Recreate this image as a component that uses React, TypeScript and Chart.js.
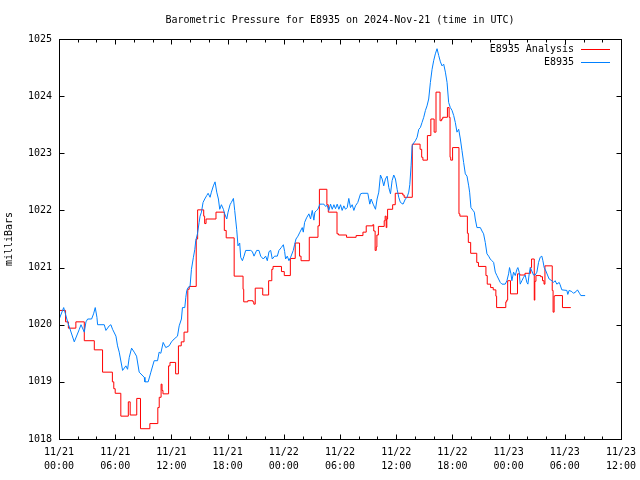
import React, { useEffect, useRef } from "react";
import { Chart, registerables } from "chart.js";

Chart.register(...registerables);

const chartTitle = "Barometric Pressure for E8935 on 2024-Nov-21 (time in UTC)";
const yAxisLabel = "milliBars";
const seriesNames = ["E8935 Analysis", "E8935"];
const seriesColors = ["#ff0000", "#0080ff"];

// hours since 2024-11-21 00:00 UTC
const xTickHours = [0, 6, 12, 18, 24, 30, 36, 42, 48, 54, 60];
const xMinorStep = 2;
const yTicks = [1018, 1019, 1020, 1021, 1022, 1023, 1024, 1025];

const analysisHours = [
  0, 0.7, 1.0, 1.8, 2.7, 3.77, 4.65, 5.7, 5.85, 6.0, 6.6, 7.4, 7.6, 8.3, 8.7, 9.7,
  10.55, 10.7, 10.9, 11.0, 11.1, 11.7, 11.85, 12.45, 12.75, 13.05, 13.35, 13.75, 13.9,
  14.65, 14.8, 15.45, 15.55, 15.7, 16.76, 17.65, 17.85, 18.7, 19.65, 19.72, 20.15, 20.7,
  20.8, 20.95, 21.75, 22.38, 22.72, 22.85, 23.75, 24.05, 24.7, 25.22, 25.68, 25.84,
  26.72, 27.65, 27.8, 28.6, 28.75, 29.68, 29.85, 30.7, 31.72, 32.45, 32.8, 33.5, 33.6,
  33.75, 33.87, 33.94, 34.1, 34.72, 34.82, 34.93, 35.0, 35.08, 35.62, 35.9, 36.7, 36.85,
  37.72, 38.55, 38.72, 38.85, 39.33, 39.7, 40.05, 40.25, 40.68, 40.85, 40.97, 41.47,
  41.65, 41.75, 41.82, 42.02, 42.7, 42.8, 43.6, 43.7, 43.95, 44.6, 44.78, 45.58, 45.72,
  46.08, 46.36, 46.64, 46.72, 47.7, 47.8, 47.9, 48.2, 48.95, 49.2, 49.75, 50.35, 50.45,
  50.74, 50.8, 50.92, 51.42, 51.62, 51.78, 51.88, 52.66, 52.75, 52.86, 52.94, 53.75, 54.64,
];
const analysisPressure = [
  1020.25, 1020.05, 1019.94, 1020.05, 1019.72, 1019.56, 1019.17, 1019.0, 1018.88, 1018.8,
  1018.4, 1018.65, 1018.42, 1018.71, 1018.18, 1018.27, 1018.55, 1018.73, 1018.96, 1018.85,
  1018.79, 1019.28, 1019.34, 1019.14, 1019.63, 1019.7, 1019.87, 1020.62, 1020.67, 1021.5,
  1022.01, 1021.9, 1021.77, 1021.85, 1021.97, 1021.65, 1021.52, 1020.85, 1020.62, 1020.4,
  1020.42, 1020.4, 1020.36, 1020.64, 1020.52, 1020.77, 1020.97, 1021.02, 1020.93, 1020.86,
  1021.16, 1021.43, 1021.2, 1021.12, 1021.53, 1021.73, 1022.37, 1022.1, 1021.97, 1021.59,
  1021.57, 1021.53, 1021.56, 1021.62, 1021.73, 1021.75, 1021.64, 1021.3, 1021.36, 1021.57,
  1021.72, 1021.82, 1021.9, 1021.7, 1021.85, 1022.02, 1022.1, 1022.3, 1022.27, 1022.23,
  1023.16, 1023.07, 1022.93, 1022.88, 1023.31, 1023.6, 1023.37, 1024.07, 1023.57, 1023.6,
  1023.63, 1023.8, 1023.63, 1022.93, 1022.88, 1023.1, 1021.94, 1021.9, 1021.6, 1021.44,
  1021.25, 1021.09, 1021.02, 1020.86, 1020.71, 1020.65, 1020.61, 1020.5, 1020.3, 1020.4,
  1020.43, 1020.77, 1020.54, 1020.89, 1020.87, 1020.9, 1021.0, 1021.15, 1020.43, 1020.76,
  1020.86, 1020.84, 1020.77, 1020.71, 1021.03, 1020.6, 1020.22, 1020.5, 1020.51, 1020.3, 1020.3,
];

const stationHours = [
  0.03, 0.5, 0.92, 1.63, 2.17, 2.35, 2.7, 2.88, 3.06, 3.48, 3.69, 3.87, 4.05, 4.12, 4.83,
  5.01, 5.36, 5.54, 5.72, 6.08, 6.25, 6.43, 6.79, 7.14, 7.32, 7.5, 7.75, 8.03, 8.28, 8.56,
  9.1, 9.17, 9.52, 9.81, 10.16, 10.52, 10.69, 10.87, 11.12, 11.4, 11.76, 12.01, 12.29,
  12.65, 12.83, 13.07, 13.18, 13.43, 13.54, 13.64, 13.78, 13.99, 14.14, 14.35, 14.5, 14.6,
  14.78, 14.96, 15.06, 15.21, 15.38, 15.56, 15.77, 15.92, 16.13, 16.27, 16.48, 16.66,
  16.84, 17.02, 17.16, 17.34, 17.55, 17.69, 17.91, 18.05, 18.26, 18.4, 18.62, 18.76,
  18.97, 19.11, 19.29, 19.4, 19.58, 19.75, 19.93, 20.46, 20.64, 20.82, 21.1, 21.35, 21.53,
  21.81, 22.06, 22.24, 22.42, 22.6, 22.77, 23.02, 23.31, 23.48, 23.73, 23.95, 24.09,
  24.19, 24.37, 24.55, 24.73, 25.01, 25.15, 25.3, 25.51, 25.72, 25.97, 26.08, 26.22,
  26.43, 26.68, 26.86, 27.04, 27.21, 27.32, 27.5, 27.64, 27.85, 28.1, 28.28, 28.46, 28.63,
  28.81, 28.99, 29.17, 29.35, 29.52, 29.7, 29.88, 30.06, 30.23, 30.41, 30.59, 30.77,
  30.94, 31.12, 31.3, 31.48, 31.65, 31.9, 32.19, 32.36, 32.97, 33.08, 33.18, 33.32, 33.54,
  33.79, 33.96, 34.14, 34.32, 34.5, 34.67, 34.85, 35.03, 35.21, 35.39, 35.56, 35.74,
  35.92, 36.1, 36.27, 36.45, 36.73, 36.98, 37.16, 37.34, 37.45, 37.59, 37.7, 37.87, 38.05,
  38.23, 38.41, 38.58, 38.76, 38.94, 39.12, 39.29, 39.47, 39.65, 39.83, 40.0, 40.18,
  40.36, 40.54, 40.72, 40.89, 41.07, 41.25, 41.43, 41.6, 41.78, 41.96, 42.14, 42.31,
  42.49, 42.67, 42.85, 43.02, 43.2, 43.38, 43.56, 43.74, 43.84, 43.98, 44.2, 44.34, 44.44,
  44.62, 44.98, 45.16, 45.33, 45.51, 45.69, 45.87, 46.04, 46.22, 46.4, 46.58, 46.75,
  46.93, 47.11, 47.29, 47.64, 47.82, 48.0, 48.1, 48.25, 48.35, 48.53, 48.71, 48.89, 48.99,
  49.13, 49.24, 49.42, 49.6, 49.77, 49.95, 50.06, 50.2, 50.31, 50.48, 50.66, 50.84, 51.02,
  51.2, 51.37, 51.55, 51.66, 51.8, 51.98, 52.15, 52.33, 52.62, 52.79, 52.97, 53.15, 53.4,
  53.5, 53.68, 54.22, 54.32, 54.46, 54.75, 54.93, 55.21, 55.35, 55.57, 55.71, 56.17,
];
const stationPressure = [
  1020.1, 1020.3, 1020.05, 1019.7, 1019.92, 1020.0, 1019.87, 1020.05, 1020.1, 1020.1,
  1020.19, 1020.3, 1020.13, 1020.0, 1020.0, 1019.9, 1019.98, 1020.0, 1019.92, 1019.8,
  1019.63, 1019.52, 1019.2, 1019.28, 1019.22, 1019.43, 1019.59, 1019.52, 1019.45, 1019.17,
  1019.08, 1019.0, 1019.0, 1019.17, 1019.37, 1019.37, 1019.52, 1019.5, 1019.69, 1019.6,
  1019.63, 1019.7, 1019.75, 1019.8, 1019.98, 1020.1, 1020.3, 1020.3, 1020.48, 1020.6,
  1020.65, 1020.67, 1020.97, 1021.18, 1021.32, 1021.47, 1021.59, 1021.79, 1021.9, 1021.97,
  1022.14, 1022.2, 1022.26, 1022.3, 1022.23, 1022.32, 1022.43, 1022.5, 1022.32, 1022.2,
  1022.02, 1022.1, 1022.02, 1021.94, 1021.85, 1021.97, 1022.1, 1022.14, 1022.21, 1022.0,
  1021.67, 1021.38, 1021.43, 1021.18, 1021.12, 1021.2, 1021.3, 1021.3, 1021.28, 1021.2,
  1021.3, 1021.3, 1021.2, 1021.15, 1021.2, 1021.12, 1021.28, 1021.3, 1021.15, 1021.2,
  1021.2, 1021.3, 1021.35, 1021.4, 1021.28, 1021.15, 1021.2, 1021.12, 1021.18, 1021.3,
  1021.4, 1021.5, 1021.55, 1021.62, 1021.7, 1021.62, 1021.79, 1021.87, 1021.94, 1021.85,
  1022.0, 1021.83, 1021.97, 1022.0, 1022.02, 1022.11, 1022.11, 1022.11, 1022.07, 1022.09,
  1022.0, 1022.11, 1022.02, 1022.1, 1022.03, 1022.11, 1022.02, 1022.1, 1022.0, 1022.08,
  1022.02, 1022.05, 1022.21, 1022.05, 1022.1, 1022.0, 1022.08, 1022.14, 1022.29, 1022.3,
  1022.3, 1022.2, 1022.11, 1022.2, 1022.11, 1022.02, 1022.2, 1022.32, 1022.62, 1022.55,
  1022.43, 1022.55, 1022.6, 1022.4, 1022.29, 1022.52, 1022.62, 1022.55, 1022.37, 1022.23,
  1022.14, 1022.11, 1022.2, 1022.23, 1022.32, 1022.45, 1022.78, 1023.13, 1023.18, 1023.22,
  1023.28, 1023.42, 1023.45, 1023.54, 1023.63, 1023.75, 1023.83, 1023.95, 1024.24, 1024.47,
  1024.62, 1024.74, 1024.83, 1024.71, 1024.6, 1024.53, 1024.56, 1024.42, 1024.24, 1023.89,
  1023.8, 1023.75, 1023.66, 1023.54, 1023.37, 1023.42, 1023.25, 1023.05, 1022.84, 1022.64,
  1022.6, 1022.43, 1022.32, 1022.05, 1022.0, 1021.97, 1021.85, 1021.7, 1021.7, 1021.64,
  1021.59, 1021.44, 1021.24, 1021.2, 1021.15, 1021.12, 1021.09, 1020.92, 1020.86, 1020.8,
  1020.74, 1020.71, 1020.71, 1020.77, 1020.89, 1021.0, 1020.89, 1020.77, 1020.92, 1020.86,
  1020.97, 1021.0, 1020.92, 1020.71, 1020.77, 1020.83, 1020.87, 1020.74, 1020.71, 1020.89,
  1021.0, 1020.94, 1020.87, 1020.87, 1020.92, 1021.09, 1021.18, 1021.2, 1021.12, 1021.0,
  1020.94, 1020.87, 1020.8, 1020.77, 1020.74, 1020.77, 1020.71, 1020.74, 1020.7, 1020.61,
  1020.6, 1020.53, 1020.6, 1020.58, 1020.55, 1020.58, 1020.61, 1020.55, 1020.51, 1020.51,
];

const FONT = '"DejaVu Sans Mono", "Liberation Mono", monospace';

function xLabel(h: number): string[] {
  const day = 21 + Math.floor(h / 24);
  const hr = h % 24;
  return [`11/${day}`, `${String(hr).padStart(2, "0")}:00`];
}

const gnuplotDecor = {
  id: "gnuplotDecor",
  afterDraw(chart: any) {
    const { ctx, chartArea: a, scales } = chart;
    const L = Math.round(a.left) + 0.5;
    const R = Math.round(a.right) + 0.5;
    const T = Math.round(a.top) + 0.5;
    const B = Math.round(a.bottom) + 0.5;
    ctx.save();
    ctx.strokeStyle = "#000";
    ctx.lineWidth = 1;
    ctx.beginPath();
    const xs = scales.x;
    const first = xTickHours[0];
    const last = xTickHours[xTickHours.length - 1];
    for (let h = first; h <= last; h += xMinorStep) {
      const x = Math.round(xs.getPixelForValue(h)) + 0.5;
      const len = xTickHours.includes(h) ? 5 : 3;
      ctx.moveTo(x, B);
      ctx.lineTo(x, B - len);
      ctx.moveTo(x, T);
      ctx.lineTo(x, T + len);
    }
    for (const v of yTicks) {
      const y = Math.round(scales.y.getPixelForValue(v)) + 0.5;
      ctx.moveTo(L, y);
      ctx.lineTo(L + 5, y);
      ctx.moveTo(R, y);
      ctx.lineTo(R - 5, y);
    }
    ctx.stroke();
    ctx.strokeRect(L, T, R - L, B - T);

    ctx.fillStyle = "#000";
    ctx.font = `10px ${FONT}`;
    ctx.textBaseline = "middle";
    ctx.textAlign = "center";
    ctx.fillText(chartTitle, (a.left + a.right) / 2, 20);

    ctx.save();
    ctx.translate(9, (a.top + a.bottom) / 2);
    ctx.rotate(-Math.PI / 2);
    ctx.fillText(yAxisLabel, 0, 0);
    ctx.restore();

    ctx.textAlign = "right";
    seriesNames.forEach((name, i) => {
      const y = 49 + i * 13;
      ctx.fillText(name, 574, y);
      ctx.strokeStyle = seriesColors[i];
      ctx.beginPath();
      ctx.moveTo(581, Math.round(y) + 0.5);
      ctx.lineTo(610, Math.round(y) + 0.5);
      ctx.stroke();
    });
    ctx.restore();
  },
};

export default function App() {
  const ref = useRef<HTMLCanvasElement | null>(null);
  useEffect(() => {
    if (!ref.current) return;
    Chart.defaults.color = "#000";
    const analysis = analysisHours.map((h, i) => ({ x: h, y: analysisPressure[i] }));
    const station = stationHours.map((h, i) => ({ x: h, y: stationPressure[i] }));
    const chart = new Chart(ref.current, {
      type: "line",
      data: {
        datasets: [
          {
            label: seriesNames[1],
            data: station,
            borderColor: seriesColors[1],
            backgroundColor: seriesColors[1],
            borderWidth: 1,
            pointRadius: 0,
            tension: 0,
          },
          {
            label: seriesNames[0],
            data: analysis,
            borderColor: seriesColors[0],
            backgroundColor: seriesColors[0],
            borderWidth: 1,
            pointRadius: 0,
            stepped: true,
          },
        ],
      },
      options: {
        animation: false,
        responsive: false,
        devicePixelRatio: 1,
        events: [],
        layout: { padding: { top: 39, right: 19, left: 0, bottom: 0 } },
        plugins: { legend: { display: false }, tooltip: { enabled: false }, title: { display: false } },
        scales: {
          x: {
            type: "linear",
            min: xTickHours[0],
            max: xTickHours[xTickHours.length - 1],
            afterFit: (s: any) => {
              s.height = 41;
              s.paddingLeft = 0;
              s.paddingRight = 0;
            },
            afterBuildTicks: (s: any) => {
              s.ticks = xTickHours.map((v) => ({ value: v }));
            },
            grid: { display: false, drawTicks: false },
            border: { display: false },
            ticks: {
              autoSkip: false,
              maxRotation: 0,
              minRotation: 0,
              padding: 7,
              color: "#000",
              font: { family: FONT, size: 10, lineHeight: 1.35 },
              callback: (v: any) => xLabel(Number(v)),
            },
          },
          y: {
            type: "linear",
            min: yTicks[0],
            max: yTicks[yTicks.length - 1],
            afterFit: (s: any) => {
              s.width = 59;
              s.paddingTop = 0;
              s.paddingBottom = 0;
            },
            afterBuildTicks: (s: any) => {
              s.ticks = yTicks.map((v) => ({ value: v }));
            },
            grid: { display: false, drawTicks: false },
            border: { display: false },
            ticks: {
              padding: 7,
              color: "#000",
              font: { family: FONT, size: 10 },
              callback: (v: any) => String(v),
            },
          },
        },
      },
      plugins: [gnuplotDecor],
    });
    return () => chart.destroy();
  }, []);
  return (
    <div style={{ position: "fixed", left: 0, top: 0, width: 640, height: 480, background: "#fff" }}>
      <canvas ref={ref} width={640} height={480} />
    </div>
  );
}
